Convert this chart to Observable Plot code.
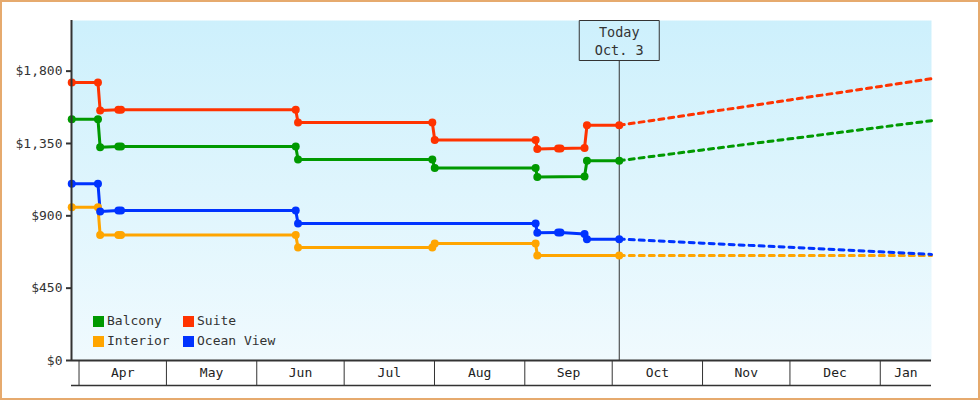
<!DOCTYPE html>
<html><head><meta charset="utf-8">
<script src="https://cdn.jsdelivr.net/npm/d3@7"></script>
<script src="https://cdn.jsdelivr.net/npm/@observablehq/plot@0.6"></script>
<style>
body{margin:0;background:#fff;}
#wrap{position:relative;width:980px;height:400px;overflow:hidden;font-family:"DejaVu Sans Mono",monospace;}
#border{position:absolute;left:0;top:0;width:980px;height:400px;box-sizing:border-box;border:2px solid #e6aa6e;pointer-events:none;}
#legend{position:absolute;left:93px;top:315px;font-size:13px;color:#333;}
.item{position:absolute;white-space:nowrap;display:flex;align-items:center;height:12px;line-height:12px;}
.sw{width:11px;height:11px;margin-right:3px;flex:none;}
</style></head><body><div id="wrap"><div id="chart"></div><div id="legend"></div><div id="border"></div></div>
<script>
// ---- data ----
const seriesNames = ["Balcony", "Suite", "Interior", "Ocean View"];
const seriesColors = ["#009900", "#ff3300", "#ffa500", "#0033ff"];

const dates = [
  "2012-03-29T12:00Z", "2012-04-07T12:00Z", "2012-04-08T06:00Z", "2012-04-14T12:00Z",
  "2012-04-15T10:00Z", "2012-06-14T09:00Z", "2012-06-15T04:00Z", "2012-07-31T06:00Z",
  "2012-08-01T02:00Z", "2012-09-04T17:00Z", "2012-09-05T07:00Z", "2012-09-12T10:00Z",
  "2012-09-13T06:00Z", "2012-09-21T12:00Z", "2012-09-22T08:00Z", "2012-10-03T10:00Z"
];
const balcony   = [1500, 1500, 1326, 1331, 1331, 1331, 1250, 1250, 1198, 1198, 1142, null, null, 1144, 1243, 1243];
const suite     = [1730, 1730, 1555, 1560, 1560, 1560, 1480, 1480, 1372, 1372, 1315, 1318, 1318, 1322, 1463, 1463];
const interior  = [953, 953, 780, 780, 780, 780, 703, 703, 728, 728, 653, null, null, null, null, 653];
const oceanView = [1100, 1100, 927, 933, 933, 933, 852, null, null, 852, 794, 796, 796, 787, 755, 755];

const forecastDates = ["2012-10-03T10:00Z", "2012-11-01T00:00Z", "2012-12-01T00:00Z", "2013-01-01T00:00Z", "2013-01-18T14:00Z"];
const balconyForecast   = [1243, 1310, 1379, 1451, 1492];
const suiteForecast     = [1463, 1540, 1621, 1705, 1753];
const interiorForecast  = [653, 653, 653, 653, 653];
const oceanViewForecast = [755, 730, 704, 676, 660];

const yTicks = [0, 450, 900, 1350, 1800];
const monthStarts = ["2012-04-01T00:00Z", "2012-05-01T00:00Z", "2012-06-01T00:00Z", "2012-07-01T00:00Z", "2012-08-01T00:00Z",
  "2012-09-01T00:00Z", "2012-10-01T00:00Z", "2012-11-01T00:00Z", "2012-12-01T00:00Z", "2013-01-01T00:00Z"];
const monthLabels = ["Apr", "May", "Jun", "Jul", "Aug", "Sep", "Oct", "Nov", "Dec", "Jan"];
const xDomain = ["2012-03-29T10:00Z", "2013-01-18T14:00Z"];
const yDomain = [0, 2115];
const today = "2012-10-03T10:00Z";
const todayLabel = ["Today", "Oct. 3"];

// ---- build tables ----
const series = [balcony, suite, interior, oceanView];
const forecasts = [balconyForecast, suiteForecast, interiorForecast, oceanViewForecast];
const rows = [], frows = [];
series.forEach((vals, s) => vals.forEach((v, i) => { if (v != null) rows.push({series: seriesNames[s], date: new Date(dates[i]), value: v}); }));
forecasts.forEach((vals, s) => vals.forEach((v, i) => frows.push({series: seriesNames[s], date: new Date(forecastDates[i]), value: v})));

const xd = xDomain.map(d => new Date(d));
const ms = monthStarts.map(d => new Date(d));
const labelDates = ms.map((m, i) => {
  const a = Math.max(+m, +xd[0]);
  const b = Math.min(i + 1 < ms.length ? +ms[i + 1] : +d3.utcMonth.offset(m, 1), +xd[1]);
  return new Date((a + b) / 2);
});
const labelOf = new Map(labelDates.map((d, i) => [+d, monthLabels[i]]));
const todayDate = new Date(today);

const boxSymbol = {draw(ctx) { ctx.moveTo(-40, -20); ctx.lineTo(40, -20); ctx.lineTo(40, 20); ctx.lineTo(-40, 20); ctx.closePath(); }};

const plot = Plot.plot({
  width: 980, height: 400,
  marginLeft: 71, marginRight: 49, marginTop: 20, marginBottom: 40,
  style: {fontFamily: "DejaVu Sans Mono, monospace", fontSize: "13px", color: "#333", background: "transparent"},
  x: {type: "utc", domain: xd},
  y: {domain: yDomain},
  color: {domain: seriesNames, range: seriesColors},
  marks: [
    Plot.frame({fill: "url(#bgGrad)", stroke: null}),
    Plot.ruleX([todayDate], {insetTop: 40, stroke: "#333", strokeWidth: 1}),
    Plot.dot([todayDate], {x: d => d, frameAnchor: "top", dy: 20, symbol: boxSymbol, fill: "none", stroke: "#333", strokeWidth: 1}),
    Plot.text([todayDate], {x: d => d, text: () => todayLabel.join("\n"), frameAnchor: "top", lineAnchor: "top", dy: 4, lineHeight: 1.3, fill: "#333", fontSize: 13.5}),
    Plot.line(frows, {x: "date", y: "value", z: "series", stroke: "series", strokeWidth: 3, strokeDasharray: "5,5"}),
    Plot.line(rows, {x: "date", y: "value", z: "series", stroke: "series", strokeWidth: 3}),
    Plot.dot(rows, {x: "date", y: "value", fill: "series", r: 4}),
    Plot.ruleX([xd[0]], {stroke: "#333", strokeWidth: 2}),
    Plot.ruleY([0], {stroke: "#333", strokeWidth: 2}),
    Plot.ruleY([0], {dy: 25, stroke: "#333", strokeWidth: 1.5}),
    Plot.axisY(yTicks, {tickSize: 5, tickPadding: 4, tickFormat: d => "$" + d3.format(",")(d), stroke: "#333", strokeWidth: 2, fill: "#333", fontSize: 13, label: null}),
    Plot.axisX(ms, {tickSize: 25, tickFormat: () => "", stroke: "#333", strokeWidth: 1, label: null}),
    Plot.axisX(labelDates, {tickSize: 0, tickPadding: 7, tickFormat: d => labelOf.get(+d), fill: "#222", fontSize: 13, label: null})
  ]
});

const defs = d3.select(plot).insert("defs", ":first-child");
const grad = defs.append("linearGradient").attr("id", "bgGrad").attr("x1", 0).attr("y1", 0).attr("x2", 0).attr("y2", 1);
grad.append("stop").attr("offset", 0).attr("stop-color", "#cdf0fc");
grad.append("stop").attr("offset", 1).attr("stop-color", "#f0fafe");
document.getElementById("chart").appendChild(plot);

// legend
const legend = document.getElementById("legend");
seriesNames.forEach((name, i) => {
  const it = document.createElement("div");
  it.className = "item";
  it.style.left = (i % 2) * 90 + "px";
  it.style.top = Math.floor(i / 2) * 20 + "px";
  const sw = document.createElement("div");
  sw.className = "sw"; sw.style.background = seriesColors[i];
  const tx = document.createElement("span"); tx.textContent = name;
  it.appendChild(sw); it.appendChild(tx);
  legend.appendChild(it);
});
</script></body></html>
